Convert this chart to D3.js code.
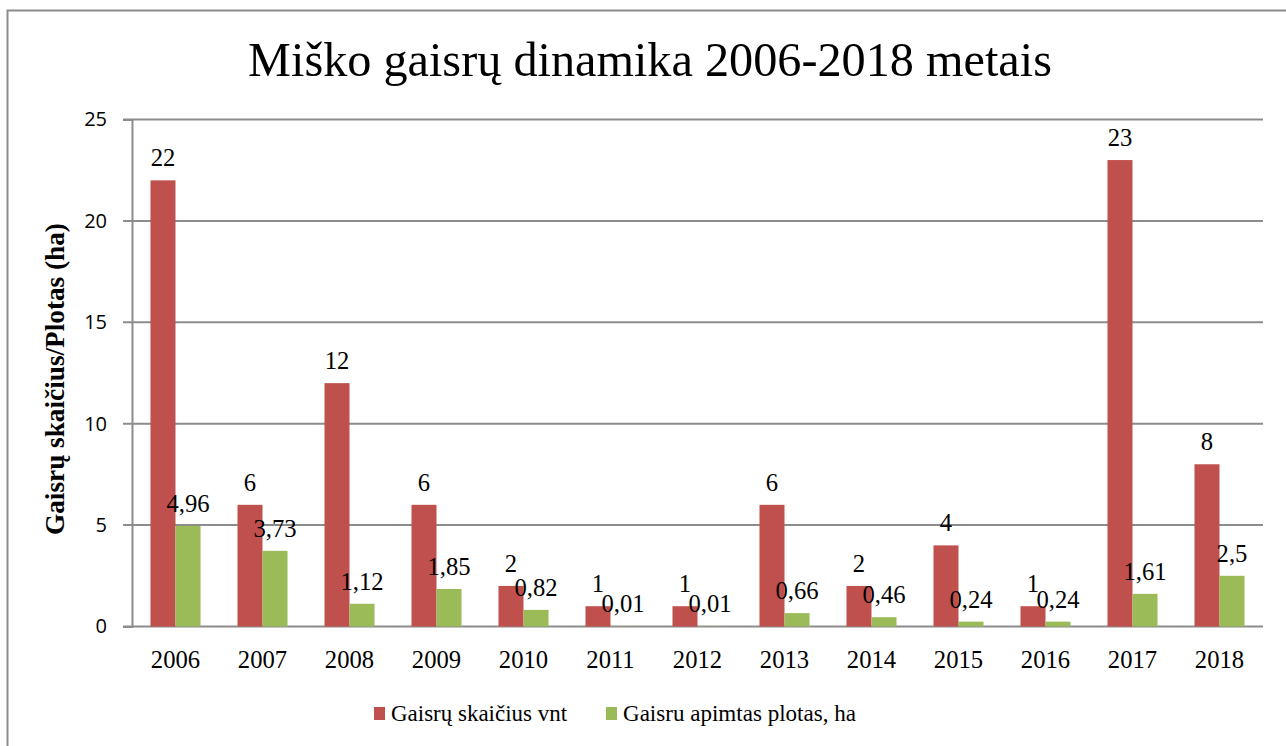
<!DOCTYPE html>
<html>
<head>
<meta charset="utf-8">
<script src="https://cdn.jsdelivr.net/npm/d3@7"></script>
<style>
  body { margin: 0; background: #fff; }
  text { fill: #000; }
  .serif { font-family: "Liberation Serif", Tinos, "Times New Roman", Times, "Noto Serif", "DejaVu Serif", FreeSerif, "Nimbus Roman", serif; }
</style>
</head>
<body>
<div id="container"></div>
<script>
var years = ['2006', '2007', '2008', '2009', '2010', '2011', '2012', '2013', '2014', '2015', '2016', '2017', '2018'];
var fires = [22, 6, 12, 6, 2, 1, 1, 6, 2, 4, 1, 23, 8];
var area = [4.96, 3.73, 1.12, 1.85, 0.82, 0.01, 0.01, 0.66, 0.46, 0.24, 0.24, 1.61, 2.5];
var seriesNames = ['Gaisrų skaičius vnt', 'Gaisru apimtas plotas, ha'];
var colors = ['#c0504d', '#9bbb59'];
var yTicks = [0, 5, 10, 15, 20, 25];

var width = 1286,
    height = 746,
    margin = { left: 132, right: 23, top: 119.5, bottom: 119.5 };

var svg = d3.select('#container')
    .append('svg')
    .attr('width', width)
    .attr('height', height);

// shrink/grow font so the text spans roughly the width seen in the original
function fit(sel, target) {
    var size = parseFloat(sel.style('font-size'));
    var w = sel.node().getComputedTextLength();
    sel.style('font-size', (size * target / w) + 'px');
    return target / w;
}

// outer frame
svg.append('rect')
    .attr('x', 7.5).attr('y', 10.5)
    .attr('width', width + 20).attr('height', height + 20)
    .attr('fill', 'none')
    .attr('stroke', '#8c8c8c')
    .attr('stroke-width', 2);

var title = svg.append('text')
    .attr('class', 'serif')
    .attr('x', 650)
    .attr('y', 76)
    .attr('text-anchor', 'middle')
    .style('font-size', '45px')
    .text('Miško gaisrų dinamika 2006-2018 metais');
var k = fit(title, 804);
var labelSize = 23 * k;

var x = d3.scaleBand()
    .domain(years)
    .range([margin.left, width - margin.right])
    .paddingInner(0.425)
    .paddingOuter(0.2125);

var x1 = d3.scaleBand()
    .domain([0, 1])
    .range([0, x.bandwidth()]);

var y = d3.scaleLinear()
    .domain([0, 25])
    .range([height - margin.bottom, margin.top]);

// gridlines
svg.append('g')
    .selectAll('line')
    .data(yTicks)
    .enter()
    .append('line')
    .attr('x1', margin.left - 9)
    .attr('x2', width - margin.right)
    .attr('y1', function(d) { return y(d); })
    .attr('y2', function(d) { return y(d); })
    .attr('stroke', '#8c8c8c')
    .attr('stroke-width', 2);

var yAxis = svg.append('g')
    .attr('transform', 'translate(' + margin.left + ',0)')
    .call(d3.axisLeft(y).tickValues(yTicks).tickSize(9).tickPadding(16));
yAxis.select('.domain').attr('stroke', '#8c8c8c').attr('stroke-width', 2);
yAxis.selectAll('.tick line').remove();
yAxis.selectAll('text')
    .style('font-family', '"Open Sans", "Noto Sans", sans-serif')
    .style('font-size', '20px')
    .attr('fill', '#000');

var xAxis = svg.append('g')
    .attr('transform', 'translate(0,' + y(0) + ')')
    .call(d3.axisBottom(x).tickSize(0).tickPadding(24));
xAxis.select('.domain').remove();
xAxis.attr('font-family', null);
xAxis.selectAll('text')
    .attr('class', 'serif')
    .style('font-size', labelSize + 'px')
    .attr('fill', '#000');

var groups = svg.selectAll('g.year')
    .data(years)
    .enter()
    .append('g')
    .attr('class', 'year')
    .attr('transform', function(d) { return 'translate(' + x(d) + ',0)'; });

[fires, area].forEach(function(vals, s) {
    groups.append('rect')
        .attr('x', x1(s))
        .attr('width', x1.bandwidth())
        .attr('y', function(d, i) { return y(vals[i]); })
        .attr('height', function(d, i) { return y(0) - y(vals[i]); })
        .attr('fill', colors[s]);
    groups.append('text')
        .attr('class', 'serif')
        .attr('x', x1(s) + x1.bandwidth() / 2)
        .attr('y', function(d, i) { return y(vals[i]) - 14; })
        .attr('text-anchor', 'middle')
        .style('font-size', labelSize + 'px')
        .text(function(d, i) { return String(vals[i]).replace('.', ','); });
});

// y axis title
var yTitle = svg.append('text')
    .attr('class', 'serif')
    .attr('transform', 'translate(64,379) rotate(-90)')
    .attr('text-anchor', 'middle')
    .style('font-size', '21px')
    .style('font-weight', 'bold')
    .text('Gaisrų skaičius/Plotas (ha)');
fit(yTitle, 312);

// legend
var legendX = [374, 606];
var legendW = [176, 233];
var legend = svg.selectAll('g.legend')
    .data(seriesNames)
    .enter()
    .append('g')
    .attr('class', 'legend')
    .attr('transform', function(d, i) { return 'translate(' + legendX[i] + ',707)'; });
legend.append('rect')
    .attr('width', 11)
    .attr('height', 13)
    .attr('fill', function(d, i) { return colors[i]; });
legend.append('text')
    .attr('class', 'serif')
    .attr('x', 17)
    .attr('y', 14)
    .style('font-size', labelSize + 'px')
    .text(function(d) { return d; })
    .each(function(d, i) { fit(d3.select(this), legendW[i]); });
</script>
</body>
</html>
